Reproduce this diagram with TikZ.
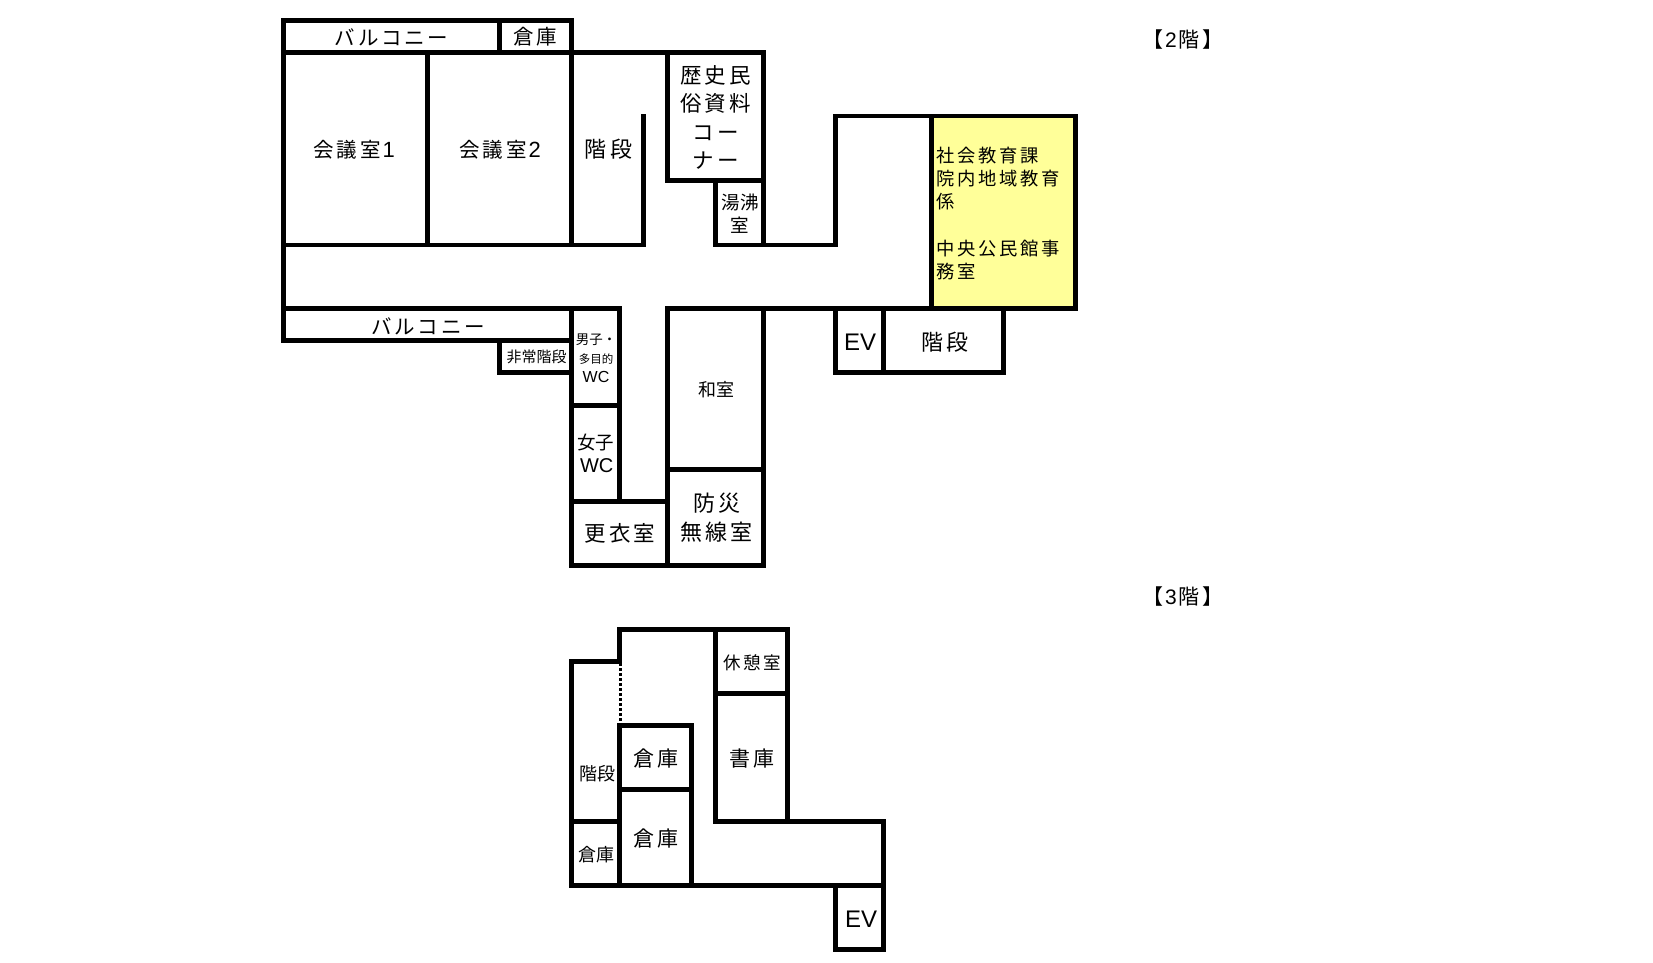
\documentclass[tikz,border=0pt]{standalone}
\usepackage{fontspec}
\setmainfont{Liberation Sans}
\newfontfamily\jp{Noto Sans CJK JP}
\newfontfamily\jps[LetterSpace=14]{Noto Sans CJK JP}
\newfontfamily\lat{Liberation Sans}
\tikzset{
  wall/.style={draw=black,line width=4.9pt,line cap=rect,line join=miter},
  lab/.style 2 args={font=\jps\fontsize{#1}{#2}\selectfont,align=center,inner sep=0pt,text=black},
  labt/.style 2 args={font=\jp\fontsize{#1}{#2}\selectfont,align=center,inner sep=0pt,text=black},
  late/.style={font=\lat\fontsize{#1}{#1}\selectfont,inner sep=0pt,text=black}
}
\begin{document}
\begin{tikzpicture}[x=1pt,y=-1pt]
\useasboundingbox (0,0) rectangle (1653,962);
\fill[white] (0,0) rectangle (1653,962);
\fill[fill={rgb,255:red,255;green,255;blue,153}] (931.3,116) rectangle (1075.3,308.7);
% 2nd floor walls
\draw[wall] (571.7,52.7)--(571.7,20.7)--(283.5,20.7)--(283.5,340.3)--(571.7,340.3);
\draw[wall] (499.3,20.7)--(499.3,52.7);
\draw[wall] (283.5,52.7)--(763.3,52.7)--(763.3,245);
\draw[wall] (427.7,52.7)--(427.7,245);
\draw[wall] (571.7,52.7)--(571.7,245);
\draw[wall] (283.5,245)--(643.3,245)--(643.3,116);
\draw[wall] (667.3,52.7)--(667.3,180.3)--(763.3,180.3);
\draw[wall] (715.3,180.3)--(715.3,245)--(835.3,245)--(835.3,116)--(1075.3,116)--(1075.3,308.7)--(667.3,308.7)--(667.3,565.3);
\draw[wall] (931.3,116)--(931.3,308.7);
\draw[wall] (283.5,308.7)--(619.3,308.7)--(619.3,501.3);
\draw[wall] (571.7,308.7)--(571.7,565.3)--(763.3,565.3)--(763.3,308.7);
\draw[wall] (571.7,405.3)--(619.3,405.3);
\draw[wall] (571.7,501.3)--(667.3,501.3);
\draw[wall] (667.3,469.3)--(763.3,469.3);
\draw[wall] (499.3,340.3)--(499.3,372.3)--(571.7,372.3);
\draw[wall] (835.3,308.7)--(835.3,372.3)--(1003.3,372.3)--(1003.3,308.7);
\draw[wall] (883.3,308.7)--(883.3,372.3);
% 3rd floor walls
\draw[wall] (619.7,661)--(619.7,629.5)--(787.3,629.5)--(787.3,821.5);
\draw[wall] (619.7,661.5)--(571.3,661.5)--(571.3,885.5)--(883.3,885.5)--(883.3,821.5)--(715.3,821.5)--(715.3,629.5);
\draw[wall] (715.3,693.5)--(787.3,693.5);
\draw[black,line width=3pt,dash pattern=on 2.5pt off 2.5pt] (620.7,663)--(620.7,723);
\draw[wall] (619.7,885.5)--(619.7,725.5)--(691.3,725.5)--(691.3,885.5);
\draw[wall] (619.7,789.5)--(691.3,789.5);
\draw[wall] (571.3,821.5)--(619.7,821.5);
\draw[wall] (835.3,885.5)--(835.3,949.8)--(883.3,949.8)--(883.3,885.5);
% labels, 2nd floor
\node[lab={20.5}{24}] (balc1) at (391.7,37.5) {バルコニー};
\node[lab={20.5}{24}] (store1) at (535.5,37) {倉庫};
\node[lab={20.5}{24}] (conf1) at (354,149.5) {会議室\kern2pt{\lat\fontsize{22}{24}\selectfont 1}};
\node[lab={20.5}{24}] (conf2) at (500,149.5) {会議室\kern2pt{\lat\fontsize{22}{24}\selectfont 2}};
\node[lab={22}{24}] (stair1) at (608.5,149.5) {階段};
\node[lab={21.5}{28.3}] (hist) at (715.7,117.5) {歴史民\\俗資料\\コー\\ナー};
\node[labt={18.5}{23.5}] (water) at (740,213.5) {湯沸\\室};
\node[lab={18.3}{23.2},align=left,anchor=north west] (office) at (936.7,147)
  {社会教育課\\院内地域教育\\係\\\mbox{}\\中央公民館事\\務室};
\node[late=24] (ev1) at (860.2,342) {EV};
\node[lab={22}{24}] (stair2) at (945,342) {階段};
\node[lab={20.5}{24}] (balc2) at (428.3,326) {バルコニー};
\node[labt={15}{16}] (emerg) at (536.7,357) {非常階段};
\node[labt={13.5}{16}] (men) at (596,339.5) {男子・};
\node[labt={11.5}{14}] (multi) at (596,359.5) {多目的};
\node[late=16] (wc1) at (596,377) {WC};
\node[labt={18.5}{20}] (wom) at (595.7,443) {女子};
\node[late=20] (wc2) at (596.7,465.5) {WC};
\node[labt={18}{20}] (jpr) at (716.7,389.5) {和室};
\node[lab={22}{29}] (radio) at (716.7,518) {防災\\無線室};
\node[lab={21.5}{24}] (change) at (620,533.8) {更衣室};
% labels, 3rd floor
\node[lab={17.5}{20}] (rest) at (752.3,663) {休憩室};
\node[lab={21}{24}] (lib) at (752.3,758.3) {書庫};
\node[lab={21}{24}] (store2) at (656,758.8) {倉庫};
\node[lab={21}{24}] (store3) at (656,838.8) {倉庫};
\node[labt={18}{20}] (store4) at (596.7,854.5) {倉庫};
\node[labt={18}{20}] (stair3) at (597.7,773.8) {階段};
\node[late=24] (ev2) at (861.2,918.8) {EV};
% floor captions
\node[lab={21}{22}] (f2) at (1183,40) {【\kern2pt{\lat\fontsize{21}{22}\selectfont 2}\kern2pt 階】};
\node[lab={21}{22}] (f3) at (1183,597) {【\kern2pt{\lat\fontsize{21}{22}\selectfont 3}\kern2pt 階】};
\end{tikzpicture}
\end{document}
